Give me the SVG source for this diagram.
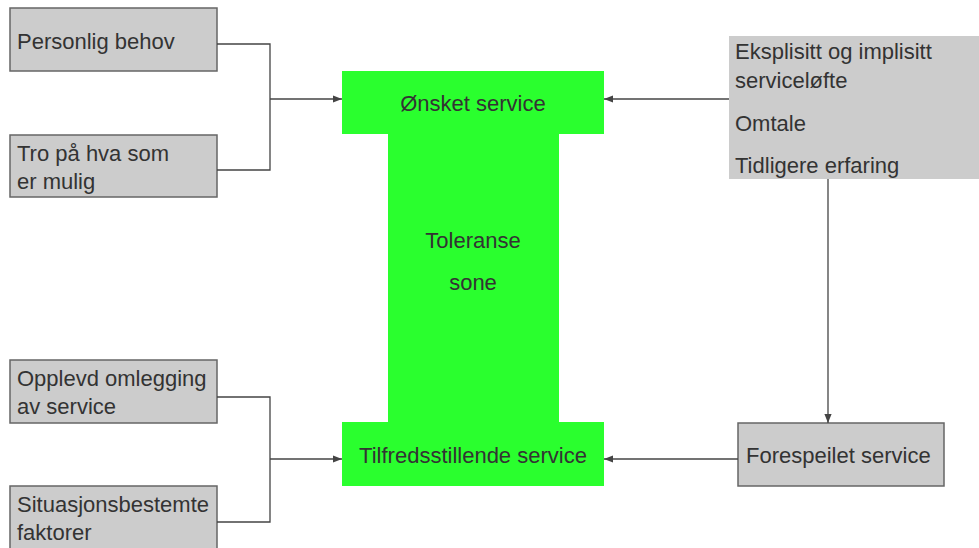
<svg xmlns="http://www.w3.org/2000/svg" width="979" height="548" viewBox="0 0 979 548">
<style>
.box{fill:#cccccc;stroke:#666666;stroke-width:1.5}
.green{fill:#2aff2e}
.t{font-family:"Liberation Sans",Arial,sans-serif;font-size:22px;fill:#333333}
.c{text-anchor:middle}
.ln{fill:none;stroke:#444444;stroke-width:1.3}
</style>
<defs>
<marker id="arr" viewBox="0 0 10 10" refX="10" refY="5" markerWidth="9" markerHeight="9" markerUnits="userSpaceOnUse" orient="auto">
<path d="M0,1 L10,5 L0,9 Z" fill="#444444"/>
</marker>
</defs>
<rect width="979" height="548" fill="#ffffff"/>
<g id="personlig">
<rect class="box" x="10" y="8" width="207" height="63"/>
<text class="t" x="17" y="49">Personlig behov</text>
</g>
<g id="tro">
<rect class="box" x="10" y="135" width="207" height="62"/>
<text class="t" x="17" y="161">Tro på hva som</text>
<text class="t" x="17" y="189">er mulig</text>
</g>
<g id="opplevd">
<rect class="box" x="10" y="360" width="207" height="63"/>
<text class="t" x="17" y="386">Opplevd omlegging</text>
<text class="t" x="17" y="414">av service</text>
</g>
<g id="situasjon">
<rect class="box" x="10" y="486" width="207" height="70"/>
<text class="t" x="17" y="512">Situasjonsbestemte</text>
<text class="t" x="17" y="540">faktorer</text>
</g>
<g id="toleranse">
<rect class="green" x="342" y="71" width="262" height="63"/>
<rect class="green" x="388" y="133" width="171" height="290"/>
<rect class="green" x="342" y="422" width="262" height="64"/>
<text class="t c" x="473" y="111">Ønsket service</text>
<text class="t c" x="473" y="248">Toleranse</text>
<text class="t c" x="473" y="290">sone</text>
<text class="t c" x="473" y="463">Tilfredsstillende service</text>
</g>
<g id="kilder">
<rect x="729" y="36" width="252" height="143" fill="#cccccc"/>
<text class="t" x="735" y="59">Eksplisitt og implisitt</text>
<text class="t" x="735" y="88">serviceløfte</text>
<text class="t" x="735" y="131">Omtale</text>
<text class="t" x="735" y="173">Tidligere erfaring</text>
</g>
<g id="forespeilet">
<rect class="box" x="738" y="423" width="206" height="63"/>
<text class="t" x="746" y="463">Forespeilet service</text>
</g>
<g id="connectors">
<polyline class="ln" points="217,44 270,44 270,170 217,170"/>
<line class="ln" x1="270" y1="99" x2="342" y2="99" marker-end="url(#arr)"/>
<polyline class="ln" points="217,397 270,397 270,522 217,522"/>
<line class="ln" x1="270" y1="459" x2="342" y2="459" marker-end="url(#arr)"/>
<line class="ln" x1="729" y1="99" x2="604" y2="99" marker-end="url(#arr)"/>
<line class="ln" x1="828" y1="179" x2="828" y2="423" marker-end="url(#arr)"/>
<line class="ln" x1="738" y1="459" x2="604" y2="459" marker-end="url(#arr)"/>
</g>
</svg>
